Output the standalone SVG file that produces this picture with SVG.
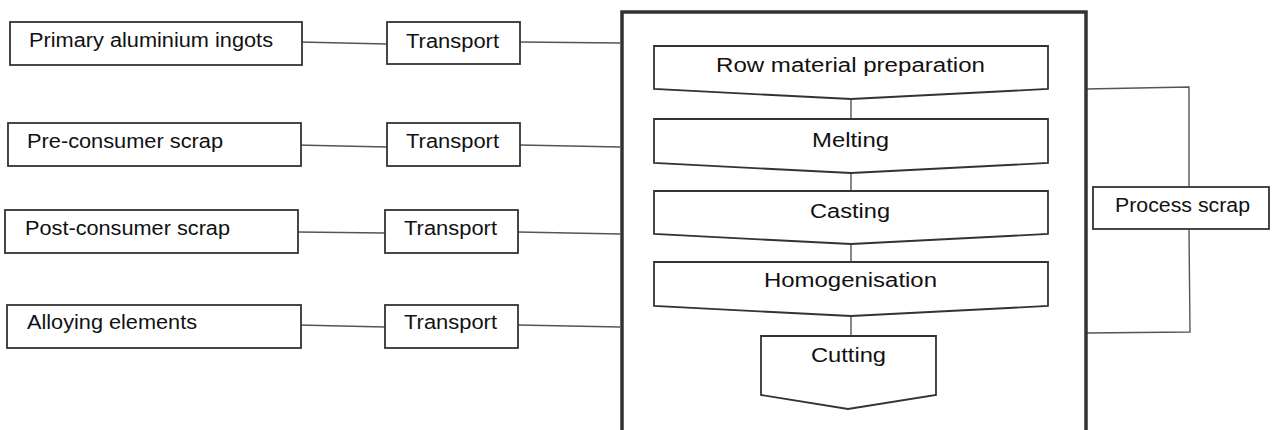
<svg xmlns="http://www.w3.org/2000/svg" width="1272" height="430" viewBox="0 0 1272 430">
<style>
.box{fill:#fff;stroke:#333;stroke-width:1.8}
.frame{fill:none;stroke:#333;stroke-width:3.5}
.ln{fill:none;stroke:#555;stroke-width:1.4}
text{font-family:"Liberation Sans",Arial,sans-serif;font-size:20px;fill:#111}
</style>
<rect width="1272" height="430" fill="#fff"/>
<g id="connectors">
<line class="ln" x1="299" y1="42" x2="387" y2="44"/>
<line class="ln" x1="520" y1="42" x2="620" y2="43"/>
<line class="ln" x1="296" y1="145" x2="387" y2="147"/>
<line class="ln" x1="520" y1="145" x2="620" y2="147"/>
<line class="ln" x1="298" y1="232" x2="385" y2="233"/>
<line class="ln" x1="518" y1="232" x2="620" y2="234"/>
<line class="ln" x1="298" y1="325" x2="385" y2="327"/>
<line class="ln" x1="518" y1="325" x2="620" y2="327"/>
<line class="ln" x1="851" y1="99" x2="851" y2="119"/>
<line class="ln" x1="851" y1="173" x2="851" y2="191"/>
<line class="ln" x1="851" y1="244" x2="851" y2="262"/>
<line class="ln" x1="851" y1="316" x2="851" y2="336"/>
<polyline class="ln" points="1086,89 1189,87 1189,187"/>
<polyline class="ln" points="1189,229 1190,332 1086,333"/>
</g>
<g id="frame"><rect class="frame" x="622" y="12" width="464" height="421"/></g>
<g id="src1"><rect class="box" x="10" y="22" width="292" height="43"/><text x="29" y="47" textLength="244" lengthAdjust="spacingAndGlyphs">Primary aluminium ingots</text></g>
<g id="src2"><rect class="box" x="8" y="123" width="293" height="43"/><text x="27" y="148" textLength="196" lengthAdjust="spacingAndGlyphs">Pre-consumer scrap</text></g>
<g id="src3"><rect class="box" x="5" y="210" width="293" height="43"/><text x="25" y="235" textLength="205" lengthAdjust="spacingAndGlyphs">Post-consumer scrap</text></g>
<g id="src4"><rect class="box" x="7" y="305" width="294" height="43"/><text x="27" y="329" textLength="170" lengthAdjust="spacingAndGlyphs">Alloying elements</text></g>
<g id="t1"><rect class="box" x="387" y="22" width="133" height="42"/><text x="406" y="48" textLength="93" lengthAdjust="spacingAndGlyphs">Transport</text></g>
<g id="t2"><rect class="box" x="387" y="123" width="133" height="43"/><text x="406" y="148" textLength="93" lengthAdjust="spacingAndGlyphs">Transport</text></g>
<g id="t3"><rect class="box" x="385" y="210" width="133" height="43"/><text x="404" y="235" textLength="93" lengthAdjust="spacingAndGlyphs">Transport</text></g>
<g id="t4"><rect class="box" x="385" y="305" width="133" height="43"/><text x="404" y="329" textLength="93" lengthAdjust="spacingAndGlyphs">Transport</text></g>
<g id="p1"><polygon class="box" points="654,46 1048,46 1048,89 851,99 654,89"/><text x="716" y="72" textLength="269" lengthAdjust="spacingAndGlyphs">Row material preparation</text></g>
<g id="p2"><polygon class="box" points="654,119 1048,119 1048,163 851,173 654,163"/><text x="812" y="147" textLength="77" lengthAdjust="spacingAndGlyphs">Melting</text></g>
<g id="p3"><polygon class="box" points="654,191 1048,191 1048,234 851,244 654,234"/><text x="810" y="218" textLength="80" lengthAdjust="spacingAndGlyphs">Casting</text></g>
<g id="p4"><polygon class="box" points="654,262 1048,262 1048,306 851,316 654,306"/><text x="764" y="287" textLength="173" lengthAdjust="spacingAndGlyphs">Homogenisation</text></g>
<g id="p5"><polygon class="box" points="761,336 936,336 936,395 848,409 761,395"/><text x="811" y="362" textLength="75" lengthAdjust="spacingAndGlyphs">Cutting</text></g>
<g id="scrap"><rect class="box" x="1093" y="187" width="176" height="42"/><text x="1115" y="212" textLength="135" lengthAdjust="spacingAndGlyphs">Process scrap</text></g>
</svg>
